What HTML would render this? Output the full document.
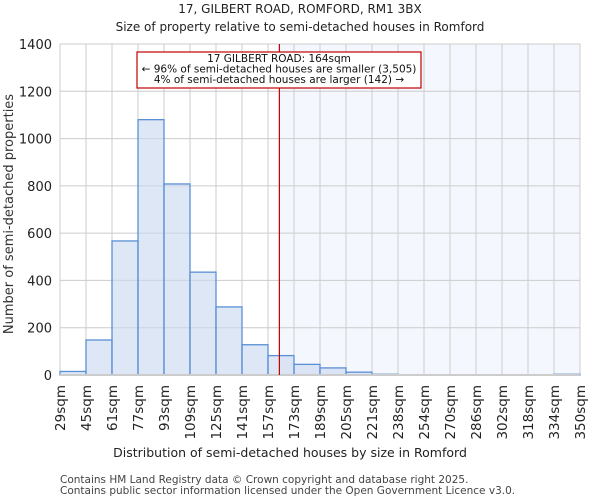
<!DOCTYPE html>
<html><head><meta charset="utf-8"><style>
body{margin:0;background:#fff;font-family:"DejaVu Sans","Liberation Sans",sans-serif;}
</style></head><body>
<svg width="600" height="500" xmlns="http://www.w3.org/2000/svg" font-family="DejaVu Sans, Liberation Sans, sans-serif">
<text x="300" y="13" text-anchor="middle" font-size="12" fill="#222">17, GILBERT ROAD, ROMFORD, RM1 3BX</text>
<text x="300" y="31" text-anchor="middle" font-size="12" fill="#222">Size of property relative to semi-detached houses in Romford</text>
<g id="plot"></g>
<text x="290" y="457" text-anchor="middle" font-size="12.5" fill="#222">Distribution of semi-detached houses by size in Romford</text>
<text transform="translate(13,214) rotate(-90)" text-anchor="middle" font-size="13" fill="#333">Number of semi-detached properties</text>
<text x="60" y="483" font-size="10.5" fill="#444">Contains HM Land Registry data © Crown copyright and database right 2025.</text>
<text x="60" y="494" font-size="10.5" fill="#444">Contains public sector information licensed under the Open Government Licence v3.0.</text>
</svg>
<script>
const categories=["29sqm","45sqm","61sqm","77sqm","93sqm","109sqm","125sqm","141sqm","157sqm","173sqm","189sqm","205sqm","221sqm","238sqm","254sqm","270sqm","286sqm","302sqm","318sqm","334sqm","350sqm"];
const counts=[15,148,567,1080,808,435,288,128,82,45,30,12,3,0,0,0,0,0,0,3];
const yTicks=[0,200,400,600,800,1000,1200,1400];
const marker=164;
const binStart=29, binWidth=16;
const X0=60,X1=580,Y0=375,Y1=44,YMAX=1400;
const NS="http://www.w3.org/2000/svg";
const g=document.getElementById('plot');
const n=counts.length;
const xi=i=>X0+i*(X1-X0)/n;
const xv=v=>X0+(v-binStart)/binWidth*(X1-X0)/n;
const y=v=>Y0-v/YMAX*(Y0-Y1);
function mk(t,a){const e=document.createElementNS(NS,t);for(const k in a)e.setAttribute(k,a[k]);g.appendChild(e);return e;}
const mx=xv(marker);
let sh=mk('rect',{x:mx,y:Y1,width:X1-mx,height:Y0-Y1,fill:'#f4f7fd'});


yTicks.forEach(t=>{let l=mk('line',{x1:X0,x2:X1,y1:y(t),y2:y(t),stroke:'#cccccc'});


let tx=mk('text',{x:X0-8,y:y(t)+5,'text-anchor':'end','font-size':'13',fill:'#222'});tx.textContent=t;

});
categories.forEach((c,i)=>{let l=mk('line',{x1:xi(i),x2:xi(i),y1:Y1,y2:Y0,stroke:'#cccccc'});


let tx=mk('text',{transform:`translate(${xi(i)+5},385) rotate(-90)`,'text-anchor':'end','font-size':'13.5',fill:'#222'});tx.textContent=c;

});
counts.forEach((v,i)=>{if(v<=0)return;let r=mk('rect',{x:xi(i),y:y(v),width:xi(i+1)-xi(i),height:Y0-y(v),fill:'rgba(200,215,238,0.6)',stroke:'#5b8fd6','stroke-width':'1.3'});

});
let ax=mk('line',{x1:X0,x2:X1,y1:Y0,y2:Y0,stroke:'#cccccc','stroke-width':'2'});


let ml=mk('line',{x1:mx,x2:mx,y1:Y1,y2:Y0,stroke:'#c00000','stroke-width':'1.2'});


let bx=mk('rect',{x:137,y:52,width:284,height:36,fill:'#fff',stroke:'#c00000','stroke-width':'1.2'});


["17 GILBERT ROAD: 164sqm","← 96% of semi-detached houses are smaller (3,505)","4% of semi-detached houses are larger (142) →"].forEach((s,i)=>{
let t=mk('text',{x:279,y:62+i*10.5,'text-anchor':'middle','font-size':'10.5',fill:'#111'});t.textContent=s;

});
</script>
</body></html>
